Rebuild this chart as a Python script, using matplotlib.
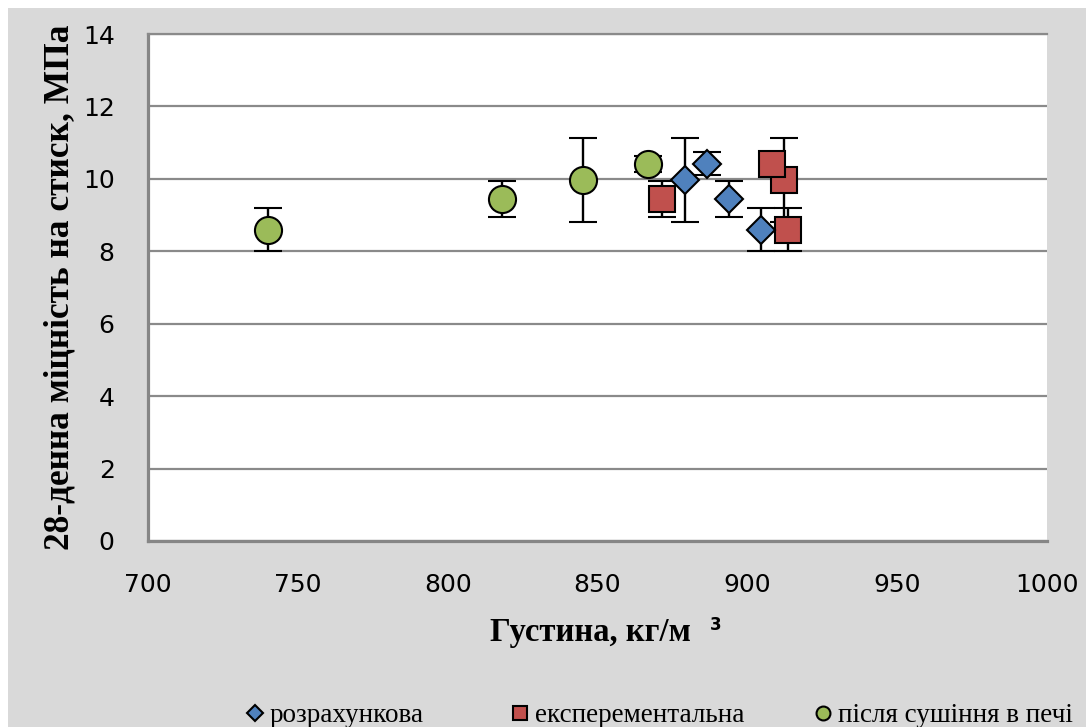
import matplotlib
matplotlib.use("Agg")
import matplotlib.pyplot as plt
from matplotlib.lines import Line2D
from matplotlib.patches import Rectangle

# ---- data ----
x_calc = [904.6, 893.8, 879.2, 886.6]
y_calc = [8.6, 9.44, 9.97, 10.42]
e_calc = [0.6, 0.5, 1.17, 0.32]

x_exp = [913.5, 871.6, 912.4, 908.2]
y_exp = [8.6, 9.44, 9.97, 10.42]
e_exp = [0.6, 0.5, 1.17, 0.28]

x_oven = [740, 818, 845, 867]
y_oven = [8.6, 9.44, 9.97, 10.42]
e_oven = [0.6, 0.5, 1.17, 0.22]

series_names = ["розрахункова", "експерементальна", "після сушіння в печі"]
x_ticks = [700, 750, 800, 850, 900, 950, 1000]
y_ticks = [0, 2, 4, 6, 8, 10, 12, 14]

blue = "#4f81bd"
red = "#c0504d"
green = "#9bbb59"

W, H = 1086, 727
fig = plt.figure(figsize=(W / 100, H / 100), dpi=100)
fig.patch.set_facecolor("white")
fig.patches.append(Rectangle((8 / W, 0), 1, 1 - 8 / H, transform=fig.transFigure,
                             facecolor="#d9d9d9", edgecolor="none", zorder=-10))

ax = fig.add_axes([148 / W, 1 - 541 / H, (1047 - 148) / W, (541 - 34) / H])
ax.set_facecolor("white")
ax.set_xlim(700, 1000)
ax.set_ylim(0, 14)
ax.set_xticks(x_ticks)
ax.set_yticks(y_ticks)
ax.tick_params(length=0, labelsize=18)
ax.tick_params(axis="y", pad=24)
ax.tick_params(axis="x", pad=23)
ax.grid(axis="y", color="#8a8a8a", lw=1.6)
ax.set_axisbelow(True)
ax.spines["right"].set_visible(False)
ax.spines["top"].set_color("#8a8a8a")
ax.spines["top"].set_linewidth(1.6)
for s in ["left", "bottom"]:
    ax.spines[s].set_color("#868686")
    ax.spines[s].set_linewidth(2.3)

ekw = dict(ecolor="black", elinewidth=1.7, capsize=10, capthick=1.7, linestyle="none")
ax.errorbar(x_oven, y_oven, yerr=e_oven, fmt="o", ms=19.5, mfc=green, mec="black", mew=1.5,
            zorder=3, **ekw)
ax.errorbar(x_exp, y_exp, yerr=e_exp, fmt="s", ms=18.5, mfc=red, mec="black", mew=1.5,
            zorder=4, **ekw)
ax.errorbar(x_calc, y_calc, yerr=e_calc, fmt="D", ms=14, mfc=blue, mec="black", mew=1.5,
            zorder=5, **ekw)

fig.text(60 / W, 1 - 287 / H, "28-денна міцність на стиск, МПа", rotation=90,
         ha="center", va="center", family="Liberation Serif", weight="bold", fontsize=25.5)
fig.text(590 / W, 1 - 633 / H, "Густина, кг/м", ha="center", va="center",
         family="Liberation Serif", weight="bold", fontsize=23.5)
fig.text(716 / W, 1 - 625 / H, "3", ha="center", va="center",
         family="DejaVu Sans", weight="bold", fontsize=12)

handles = [
    Line2D([], [], ls="none", marker="D", ms=8, mfc=blue, mec="black", mew=1.5),
    Line2D([], [], ls="none", marker="s", ms=10, mfc=red, mec="black", mew=1.5),
    Line2D([], [], ls="none", marker="o", ms=10, mfc=green, mec="black", mew=1.5),
]
legend_x = [248, 513, 816]
for h, name, lx in zip(handles, series_names, legend_x):
    leg = fig.legend([h], [name], loc="center left", bbox_to_anchor=(lx / W, 1 - 716 / H),
                     frameon=False, prop=dict(family="Liberation Serif", size=19.5),
                     handlelength=0.5, handletextpad=0.3, borderpad=0, borderaxespad=0)

fig.savefig("out.png", dpi=100, facecolor=fig.get_facecolor())
